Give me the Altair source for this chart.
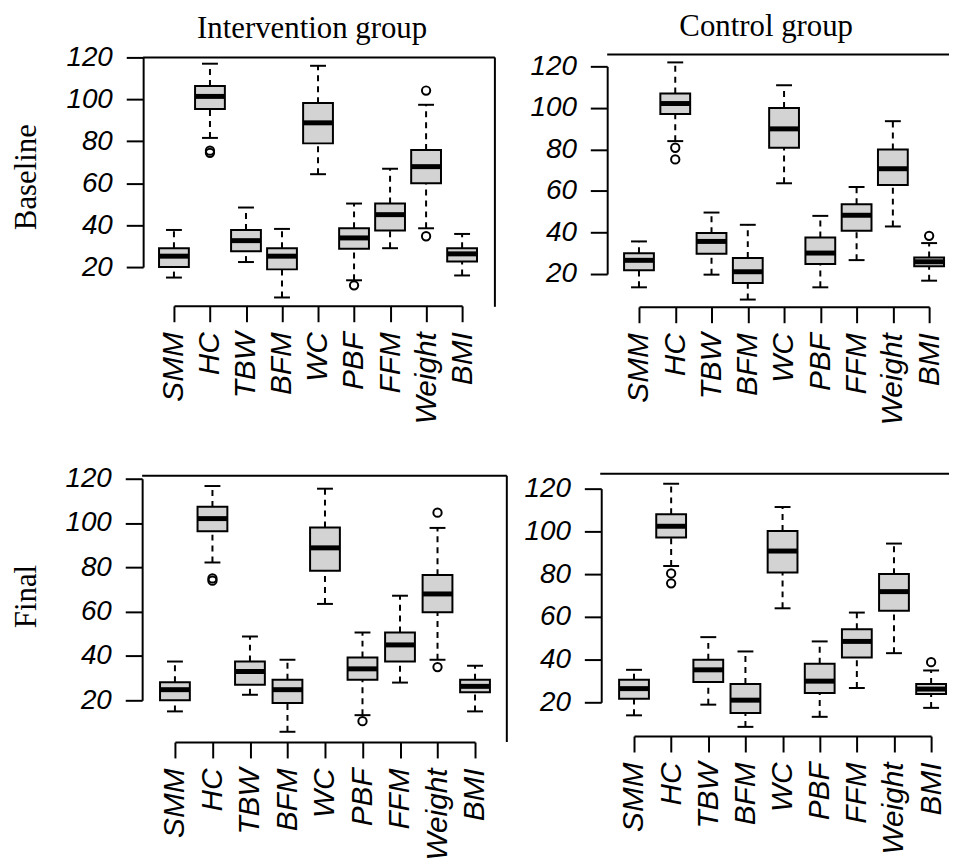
import altair as alt
import pandas as pd

categories = ["SMM", "HC", "TBW", "BFM", "WC", "PBF", "FFM", "Weight", "BMI"]
y_ticks = [20, 40, 60, 80, 100, 120]

# Intervention group - Baseline
ib_low  = [15.0, 81.6, 22.4, 5.5, 64.3, 13.7, 29.0, 38.5, 16.0]
ib_q1   = [20.0, 95.4, 27.6, 18.9, 79.0, 28.7, 37.4, 60.0, 22.7]
ib_med  = [25.2, 101.4, 32.6, 25.2, 88.8, 33.9, 45.0, 67.9, 26.3]
ib_q3   = [29.0, 106.4, 37.7, 29.0, 98.2, 38.5, 50.3, 75.8, 29.0]
ib_high = [37.7, 117.0, 48.4, 38.2, 116.0, 50.3, 66.9, 97.4, 35.8]
ib_out_cat = ["HC", "HC", "PBF", "Weight", "Weight"]
ib_out_val = [74.5, 75.5, 11.3, 104.2, 34.7]

# Control group - Baseline
cb_low  = [13.6, 84.0, 19.7, 7.7, 63.7, 13.6, 26.7, 42.9, 16.8]
cb_q1   = [21.8, 97.1, 29.8, 15.7, 80.8, 24.8, 40.8, 62.9, 23.7]
cb_med  = [26.6, 102.1, 35.7, 21.1, 89.9, 30.1, 48.3, 70.7, 25.9]
cb_q3   = [30.0, 106.9, 39.7, 27.7, 100.0, 37.6, 53.6, 80.0, 28.0]
cb_high = [35.7, 121.9, 49.6, 43.7, 110.9, 48.0, 61.9, 93.6, 34.9]
cb_out_cat = ["HC", "HC", "BMI"]
cb_out_val = [80.8, 75.2, 38.4]

# Intervention group - Final
if_low  = [15.0, 82.2, 22.5, 5.8, 63.5, 13.3, 28.0, 38.3, 15.0]
if_q1   = [20.0, 96.3, 27.0, 18.8, 78.5, 29.3, 37.5, 59.7, 23.6]
if_med  = [24.8, 102.0, 33.0, 24.8, 88.8, 34.2, 45.0, 68.0, 26.3]
if_q3   = [28.2, 107.3, 37.5, 29.3, 98.0, 39.3, 50.6, 76.5, 29.3]
if_high = [37.5, 116.7, 48.8, 38.3, 115.5, 50.6, 67.2, 97.8, 35.6]
if_out_cat = ["HC", "HC", "PBF", "Weight", "Weight"]
if_out_val = [74.0, 75.0, 10.6, 104.7, 35.0]

# Control group - Final
cf_low  = [13.9, 83.8, 18.9, 8.5, 64.0, 13.2, 26.7, 43.0, 17.4]
cf_q1   = [21.7, 97.1, 29.5, 15.0, 80.8, 24.4, 41.0, 62.9, 23.9]
cf_med  = [26.4, 102.4, 35.2, 21.0, 90.8, 29.9, 48.5, 71.8, 26.2]
cf_q3   = [30.6, 108.0, 39.9, 28.6, 100.2, 38.1, 54.2, 80.0, 28.6]
cf_high = [35.2, 122.3, 50.5, 43.8, 111.4, 48.5, 62.0, 94.3, 34.9]
cf_out_cat = ["HC", "HC", "BMI"]
cf_out_val = [80.3, 75.7, 38.8]

W, H = 340, 250
SANS = "Liberation Sans"
SERIF = "Liberation Serif"


def panel(low, q1, med, q3, high, out_cat, out_val, xr, yr, y_off, x_off,
          hframe, vframe=None, title=None, title_dx=0, title_off=18,
          row_title=None, row_tx=0, row_ty=0):
    df = pd.DataFrame({"cat": categories, "low": low, "q1": q1, "med": med,
                       "q3": q3, "high": high})
    odf = pd.DataFrame({"cat": out_cat, "val": out_val})
    one = pd.DataFrame({"f": [0]})

    xscale = alt.Scale(type="point", domain=categories, range=xr, padding=0)
    yscale = alt.Scale(domain=[20, 120], range=yr, nice=False, zero=False)

    yaxis_kw = dict(values=y_ticks, offset=y_off, grid=False,
                    labelFont=SANS, labelFontStyle="italic", labelFontSize=28,
                    labelColor="black", labelPadding=14, labelFlush=False,
                    labelOverlap=False, tickSize=17, tickWidth=2,
                    tickColor="black", domainColor="black", domainWidth=2)
    if row_title:
        yaxis = alt.Axis(title=row_title, titleFont=SERIF, titleFontSize=31,
                         titleFontWeight="normal", titleColor="black",
                         titleAngle=270, titleAlign="center",
                         titleBaseline="middle", titleX=row_tx, titleY=row_ty,
                         **yaxis_kw)
    else:
        yaxis = alt.Axis(title=None, **yaxis_kw)

    xaxis = alt.Axis(title=None, offset=x_off, labelAngle=270,
                     labelFont=SANS, labelFontStyle="italic", labelFontSize=30,
                     labelColor="black", labelPadding=10, labelOverlap=False,
                     tickSize=16, tickWidth=2, tickColor="black",
                     domainColor="black", domainWidth=2)

    def X():
        return alt.X("cat:N", scale=xscale, axis=xaxis)

    def Y(field):
        return alt.Y(field + ":Q", scale=yscale, axis=yaxis)

    base = alt.Chart(df)

    lower = base.mark_rule(strokeDash=[6, 5], strokeWidth=2, color="black").encode(
        x=X(), y=Y("low"), y2=alt.Y2("q1"))
    upper = base.mark_rule(strokeDash=[6, 5], strokeWidth=2, color="black").encode(
        x=X(), y=Y("q3"), y2=alt.Y2("high"))
    cap_lo = base.mark_tick(orient="horizontal", size=16, thickness=2,
                            color="black", opacity=1).encode(x=X(), y=Y("low"))
    cap_hi = base.mark_tick(orient="horizontal", size=16, thickness=2,
                            color="black", opacity=1).encode(x=X(), y=Y("high"))
    box = base.mark_bar(size=30, fill="#d3d3d3", stroke="black",
                        strokeWidth=2, opacity=1).encode(
        x=X(), y=Y("q1"), y2=alt.Y2("q3"))
    median = base.mark_tick(orient="horizontal", size=30, thickness=5,
                            color="black", opacity=1).encode(x=X(), y=Y("med"))
    outl = alt.Chart(odf).mark_point(shape="circle", filled=False, size=70,
                                     strokeWidth=2, color="black",
                                     opacity=1).encode(x=X(), y=Y("val"))

    layers = [lower, upper, cap_lo, cap_hi, box, median, outl]
    layers.append(alt.Chart(one).mark_rule(color="black", strokeWidth=2).encode(
        x=alt.value(hframe[0]), x2=alt.value(hframe[1]), y=alt.value(hframe[2])))
    if vframe:
        layers.append(alt.Chart(one).mark_rule(color="black", strokeWidth=2).encode(
            x=alt.value(vframe[0]), y=alt.value(vframe[1]), y2=alt.value(vframe[2])))

    ch = alt.layer(*layers).properties(width=W, height=H)
    if title:
        ch = ch.properties(title=alt.Title(title, font=SERIF, fontSize=31,
                                           fontWeight="normal", color="black",
                                           anchor="middle", dx=title_dx,
                                           frame="group",
                                           offset=title_off,
                                           baseline="alphabetic"))
    return ch


pA = panel(ib_low, ib_q1, ib_med, ib_q3, ib_high, ib_out_cat, ib_out_val,
           xr=[31, 321], yr=[215, 4], y_off=0, x_off=4,
           hframe=(0, 354, 4), vframe=(354, 4, 255),
           title="Intervention group", title_dx=0, title_off=-25,
           row_title="Baseline", row_tx=-117.5, row_ty=124)
pB = panel(cb_low, cb_q1, cb_med, cb_q3, cb_high, cb_out_cat, cb_out_val,
           xr=[32, 324], yr=[222, 13], y_off=0, x_off=5,
           hframe=(0, 344, 1),
           title="Control group", title_dx=-10, title_off=-14)
pC = panel(if_low, if_q1, if_med, if_q3, if_high, if_out_cat, if_out_val,
           xr=[32, 334], yr=[229, 6], y_off=1, x_off=21,
           hframe=(-1, 366, 3), vframe=(366, 3, 271),
           row_title="Final", row_tx=-116.5, row_ty=124)
pD = panel(cf_low, cf_q1, cf_med, cf_q3, cf_high, cf_out_cat, cf_out_val,
           xr=[27, 326], yr=[231, 16], y_off=6, x_off=15,
           hframe=(-7, 344, 1))

chart = alt.concat(pA, pB, pC, pD, columns=2,
                   spacing={"row": 172, "column": 127},
                   bounds="flush").properties(
    padding={"left": 2, "top": 0, "right": 0, "bottom": 0},
    background="white",
).configure_view(stroke=None)

chart.save("out.html", embed_options={"renderer": "svg", "actions": False})
